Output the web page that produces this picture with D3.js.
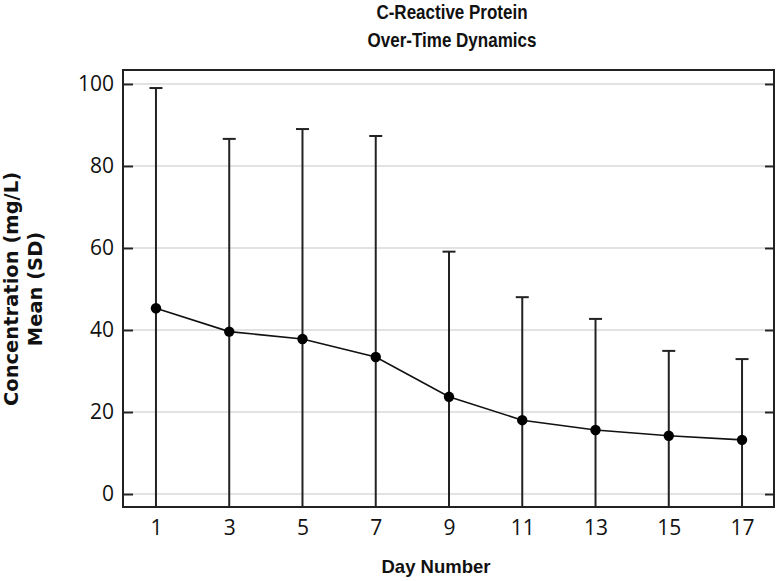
<!DOCTYPE html>
<html>
<head>
<meta charset="utf-8">
<script src="https://cdn.jsdelivr.net/npm/d3@7/dist/d3.min.js"></script>
<style>
  html, body { margin: 0; padding: 0; background: #fff; }
  svg { display: block; }
</style>
</head>
<body>
<svg id="chart" width="776" height="581"></svg>
<script>
// ---- Data ----
const days = [1, 3, 5, 7, 9, 11, 13, 15, 17];
const means = [45.3, 39.6, 37.8, 33.4, 23.7, 18.0, 15.6, 14.2, 13.2];
const sds = [53.7, 47.0, 51.2, 53.9, 35.4, 30.0, 27.1, 20.7, 19.7];
const yTicks = [0, 20, 40, 60, 80, 100];
const xTicks = [1, 3, 5, 7, 9, 11, 13, 15, 17];
const titleLines = ["C-Reactive Protein", "Over-Time Dynamics"];
const xLabel = "Day Number";
const yLabelLines = ["Concentration (mg/L)", "Mean (SD)"];

// ---- Layout ----
const W = 776, H = 581;
const plot = { left: 123, right: 775, top: 70, bottom: 507 };
const svg = d3.select("#chart");

const x = d3.scaleLinear().domain([0.1, 17.9]).range([plot.left, plot.right]);
const y = d3.scaleLinear().domain([-3.17, 103.4]).range([plot.bottom, plot.top]);

const dark = "#222";
const tickFont = "'Open Sans', 'Noto Sans', sans-serif";
const boldFont = "'Liberation Sans', Arial, sans-serif";
const wideBold = "'DejaVu Sans', 'Liberation Sans', sans-serif";

// clip path for plot
svg.append("defs").append("clipPath").attr("id", "clip")
  .append("rect")
  .attr("x", plot.left).attr("y", plot.top)
  .attr("width", plot.right - plot.left).attr("height", plot.bottom - plot.top);

// gridlines
const tickLen = 10;
svg.append("g").selectAll("line").data(yTicks).join("line")
  .attr("x1", plot.left + tickLen).attr("x2", plot.right - tickLen)
  .attr("y1", d => y(d)).attr("y2", d => y(d))
  .attr("stroke", "#d9d9d9").attr("stroke-width", 1.5);

// y axis left (ticks inside)
const yAxisL = d3.axisLeft(y).tickValues(yTicks).tickSize(-tickLen).tickPadding(9);
const gL = svg.append("g").attr("transform", `translate(${plot.left},0)`).call(yAxisL);
gL.select(".domain").remove();
gL.selectAll(".tick line").attr("stroke", dark).attr("stroke-width", 2);
gL.selectAll(".tick text").attr("font-family", tickFont).attr("font-size", 21).attr("fill", "#111");

// y axis right (ticks inside, no labels)
const yAxisR = d3.axisRight(y).tickValues(yTicks).tickSize(-tickLen).tickFormat("");
const gR = svg.append("g").attr("transform", `translate(${plot.right},0)`).call(yAxisR);
gR.select(".domain").remove();
gR.selectAll(".tick line").attr("stroke", dark).attr("stroke-width", 2);

// x axis (labels only)
const xAxis = d3.axisBottom(x).tickValues(xTicks).tickSize(0).tickPadding(13).tickFormat(d3.format("d"));
const gX = svg.append("g").attr("transform", `translate(0,${plot.bottom})`).call(xAxis);
gX.select(".domain").remove();
gX.selectAll(".tick text").attr("font-family", tickFont).attr("font-size", 21).attr("fill", "#111");

// error bars
const data = days.map((d, i) => ({ day: d, mean: means[i], sd: sds[i] }));
const eb = svg.append("g").attr("clip-path", "url(#clip)");
eb.selectAll("line.v").data(data).join("line").attr("class", "v")
  .attr("x1", d => x(d.day)).attr("x2", d => x(d.day))
  .attr("y1", d => y(d.mean + d.sd)).attr("y2", d => y(d.mean - d.sd))
  .attr("stroke", dark).attr("stroke-width", 2);
const capW = 6.5;
eb.selectAll("line.cu").data(data).join("line").attr("class", "cu")
  .attr("x1", d => x(d.day) - capW).attr("x2", d => x(d.day) + capW)
  .attr("y1", d => y(d.mean + d.sd)).attr("y2", d => y(d.mean + d.sd))
  .attr("stroke", dark).attr("stroke-width", 2);
eb.selectAll("line.cl").data(data).join("line").attr("class", "cl")
  .attr("x1", d => x(d.day) - capW).attr("x2", d => x(d.day) + capW)
  .attr("y1", d => y(d.mean - d.sd)).attr("y2", d => y(d.mean - d.sd))
  .attr("stroke", dark).attr("stroke-width", 2);

// mean line
const line = d3.line().x(d => x(d.day)).y(d => y(d.mean));
svg.append("path").datum(data).attr("d", line)
  .attr("fill", "none").attr("stroke", "#111").attr("stroke-width", 1.6);

// points
svg.append("g").selectAll("circle").data(data).join("circle")
  .attr("cx", d => x(d.day)).attr("cy", d => y(d.mean)).attr("r", 5.2)
  .attr("fill", "#000");

// frame
svg.append("rect")
  .attr("x", plot.left).attr("y", plot.top)
  .attr("width", plot.right - plot.left - 1).attr("height", plot.bottom - plot.top)
  .attr("fill", "none").attr("stroke", dark).attr("stroke-width", 2);

// title (condensed bold: horizontally compressed)
svg.append("g").selectAll("text").data(titleLines).join("text")
  .attr("transform", (d, i) => `translate(452,${19 + i * 28}) scale(0.81,1)`)
  .attr("text-anchor", "middle")
  .attr("font-family", boldFont).attr("font-weight", "bold").attr("font-size", 21)
  .attr("fill", "#111").text(d => d);

// x label
svg.append("text").attr("x", 436).attr("y", 573).attr("text-anchor", "middle")
  .attr("font-family", boldFont).attr("font-weight", "bold").attr("font-size", 18.5)
  .attr("fill", "#111").text(xLabel);

// y label
svg.append("g").selectAll("text").data(yLabelLines).join("text")
  .attr("transform", (d, i) => `translate(${18 + i * 24},289) rotate(-90)`)
  .attr("text-anchor", "middle")
  .attr("font-family", wideBold).attr("font-weight", "bold").attr("font-size", 19.5)
  .attr("fill", "#111").text(d => d);
</script>
</body>
</html>
